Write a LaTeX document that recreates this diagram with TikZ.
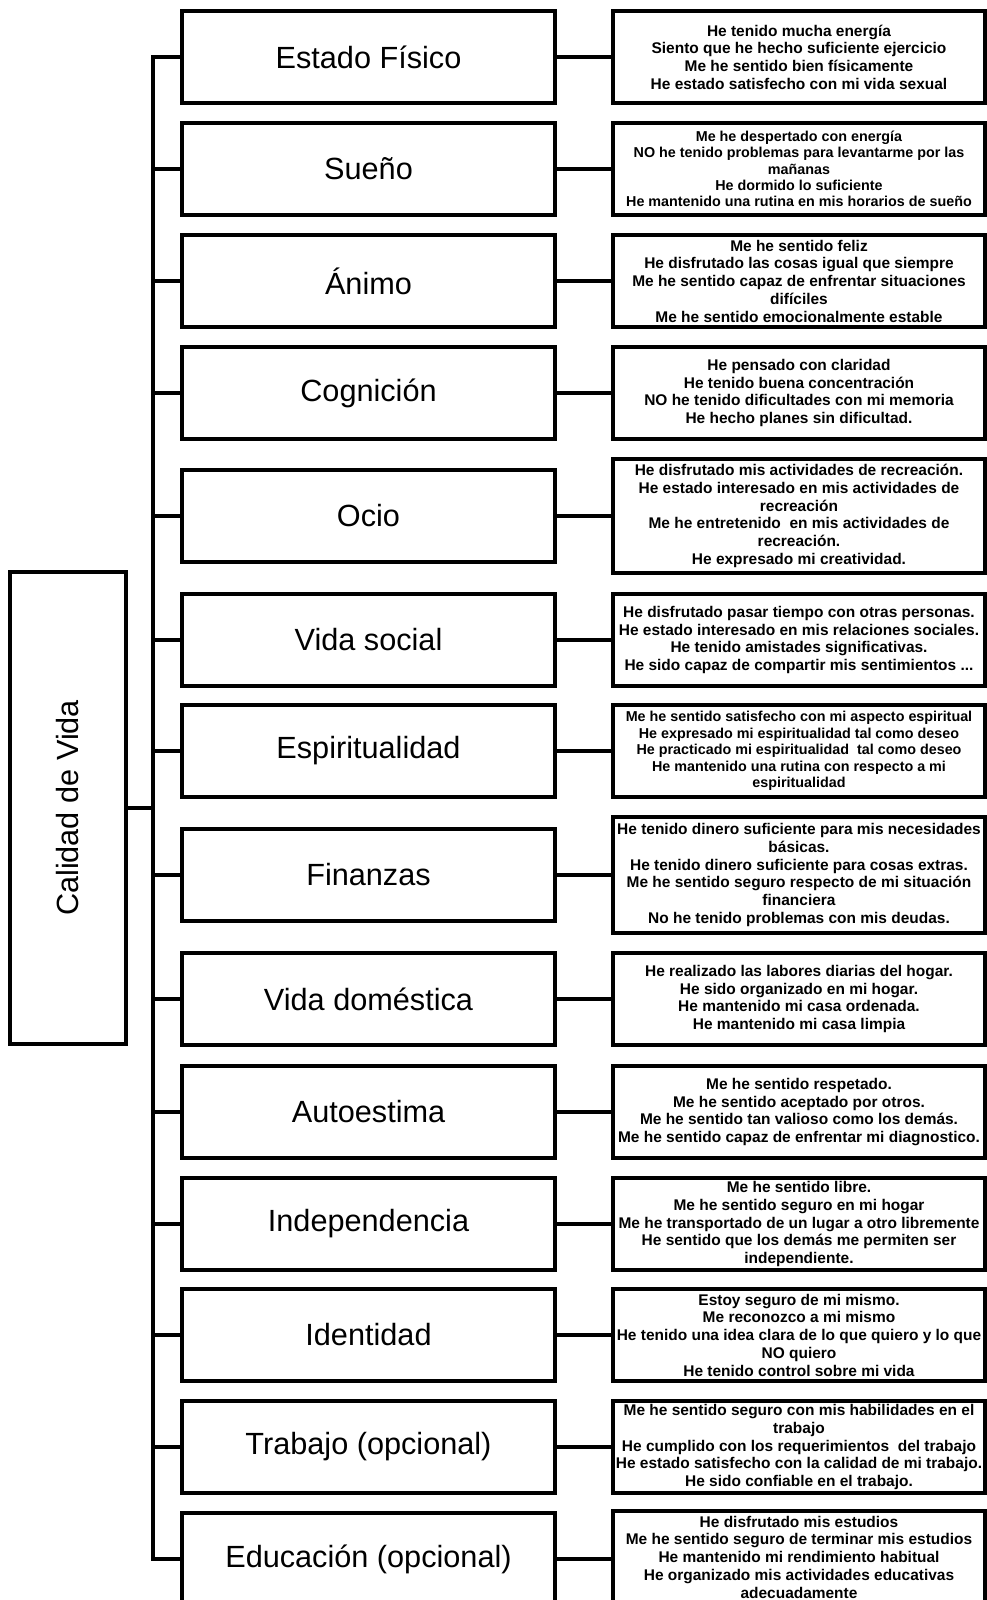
\documentclass[tikz,border=0pt]{standalone}
\usepackage{fontspec}
\setmainfont{Liberation Sans}
\usetikzlibrary{positioning}

\tikzset{every picture/.style={line width=0.75pt}}
\tikzset{
  dimbox/.style={draw, line width=3pt, minimum width=279.75pt, minimum height=69pt, inner sep=0pt, font=\fontsize{23}{27}\selectfont},
  itembox/.style={draw, line width=3pt, minimum width=279pt, minimum height=69pt, inner sep=0.5pt, align=center, font=\bfseries\fontsize{11.6}{13.3}\selectfont},
  smallitem/.style={itembox, font=\bfseries\fontsize{10.75}{12.3}\selectfont},
  link/.style={line width=3.5pt, line join=miter},
}

\begin{document}
\begin{tikzpicture}[x=0.75pt,y=0.75pt,yscale=-1,xscale=1]
\useasboundingbox (0,0) rectangle (986,1600);

%Root
\node [draw, line width=3pt, minimum width=87pt, minimum height=354pt, inner sep=0pt] (cal) at (68,808) {};
\node [rotate=90, font=\fontsize{23}{27}\selectfont] (caltext) at (cal.center) {Calidad de Vida};

%Dimensions
\node [dimbox] (est) at (368.5,57) {Estado Físico};
\node [dimbox] (sue) at (368.5,169) {Sueño};
\node [dimbox] (ani) at (368.5,281) {Ánimo};
\node [dimbox] (cog) at (368.5,393) {Cognición};
\node [dimbox] (oci) at (368.5,516) {Ocio};
\node [dimbox] (soc) at (368.5,640) {Vida social};
\node [dimbox] (esp) at (368.5,751) {Espiritualidad};
\node [dimbox] (fin) at (368.5,875) {Finanzas};
\node [dimbox] (dom) at (368.5,999) {Vida doméstica};
\node [dimbox] (aut) at (368.5,1112) {Autoestima};
\node [dimbox] (ind) at (368.5,1224) {Independencia};
\node [dimbox] (ide) at (368.5,1335) {Identidad};
\node [dimbox] (tra) at (368.5,1447) {Trabajo (opcional)};
\node [dimbox] (edu) at (368.5,1559) {Educación (opcional)};

%Items
\node [itembox] (est-i) at (799,57) {He tenido mucha energía\\Siento que he hecho suficiente ejercicio\\Me he sentido bien físicamente\\He estado satisfecho con mi vida sexual};
\node [smallitem] (sue-i) at (799,169) {Me he despertado con energía\\NO he tenido problemas para levantarme por las\\mañanas\\He dormido lo suficiente\\He mantenido una rutina en mis horarios de sueño};
\node [itembox] (ani-i) at (799,281) {Me he sentido feliz\\He disfrutado las cosas igual que siempre\\Me he sentido capaz de enfrentar situaciones\\difíciles\\Me he sentido emocionalmente estable};
\node [itembox] (cog-i) at (799,393) {He pensado con claridad\\He tenido buena concentración\\NO he tenido dificultades con mi memoria\\He hecho planes sin dificultad.};
\node [itembox, minimum height=86pt] (oci-i) at (799,516) {He disfrutado mis actividades de recreación.\\He estado interesado en mis actividades de\\recreación\\Me he entretenido\ \ en mis actividades de\\recreación.\\He expresado mi creatividad.};
\node [itembox] (soc-i) at (799,640) {He disfrutado pasar tiempo con otras personas.\\He estado interesado en mis relaciones sociales.\\He tenido amistades significativas.\\He sido capaz de compartir mis sentimientos ...};
\node [smallitem] (esp-i) at (799,751) {Me he sentido satisfecho con mi aspecto espiritual\\He expresado mi espiritualidad tal como deseo\\He practicado mi espiritualidad\ \ tal como deseo\\He mantenido una rutina con respecto a mi\\espiritualidad};
\node [itembox, minimum height=87pt] (fin-i) at (799,875) {He tenido dinero suficiente para mis necesidades\\básicas.\\He tenido dinero suficiente para cosas extras.\\Me he sentido seguro respecto de mi situación\\financiera\\No he tenido problemas con mis deudas.};
\node [itembox] (dom-i) at (799,999) {He realizado las labores diarias del hogar.\\He sido organizado en mi hogar.\\He mantenido mi casa ordenada.\\He mantenido mi casa limpia};
\node [itembox] (aut-i) at (799,1112) {Me he sentido respetado.\\Me he sentido aceptado por otros.\\Me he sentido tan valioso como los demás.\\Me he sentido capaz de enfrentar mi diagnostico.};
\node [itembox] (ind-i) at (799,1224) {Me he sentido libre.\\Me he sentido seguro en mi hogar\\Me he transportado de un lugar a otro libremente\\He sentido que los demás me permiten ser\\independiente.};
\node [itembox] (ide-i) at (799,1335) {Estoy seguro de mi mismo.\\Me reconozco a mi mismo\\He tenido una idea clara de lo que quiero y lo que\\NO quiero\\He tenido control sobre mi vida};
\node [itembox] (tra-i) at (799,1447) {Me he sentido seguro con mis habilidades en el\\trabajo\\He cumplido con los requerimientos\ \ del trabajo\\He estado satisfecho con la calidad de mi trabajo.\\He sido confiable en el trabajo.};
\node [itembox] (edu-i) at (799,1557) {He disfrutado mis estudios\\Me he sentido seguro de terminar mis estudios\\He mantenido mi rendimiento habitual\\He organizado mis actividades educativas\\adecuadamente};

%Trunk
\coordinate (trunk) at (153,57);
\draw [link] (est.west) -- (est.west -| trunk) -- (edu.west -| trunk) -- (edu.west);
\draw [link] (cal.east) -- (cal.east -| trunk);
\foreach \d in {sue,ani,cog,oci,soc,esp,fin,dom,aut,ind,ide,tra}
  \draw [link] (\d.west) -- (\d.west -| trunk);

%Branches
\foreach \d in {est,sue,ani,cog,oci,soc,esp,fin,dom,aut,ind,ide,tra}
  \draw [link] (\d.east) -- (\d-i.west);
\draw [link] (edu.east) -- (edu.east -| edu-i.west);

\end{tikzpicture}
\end{document}
